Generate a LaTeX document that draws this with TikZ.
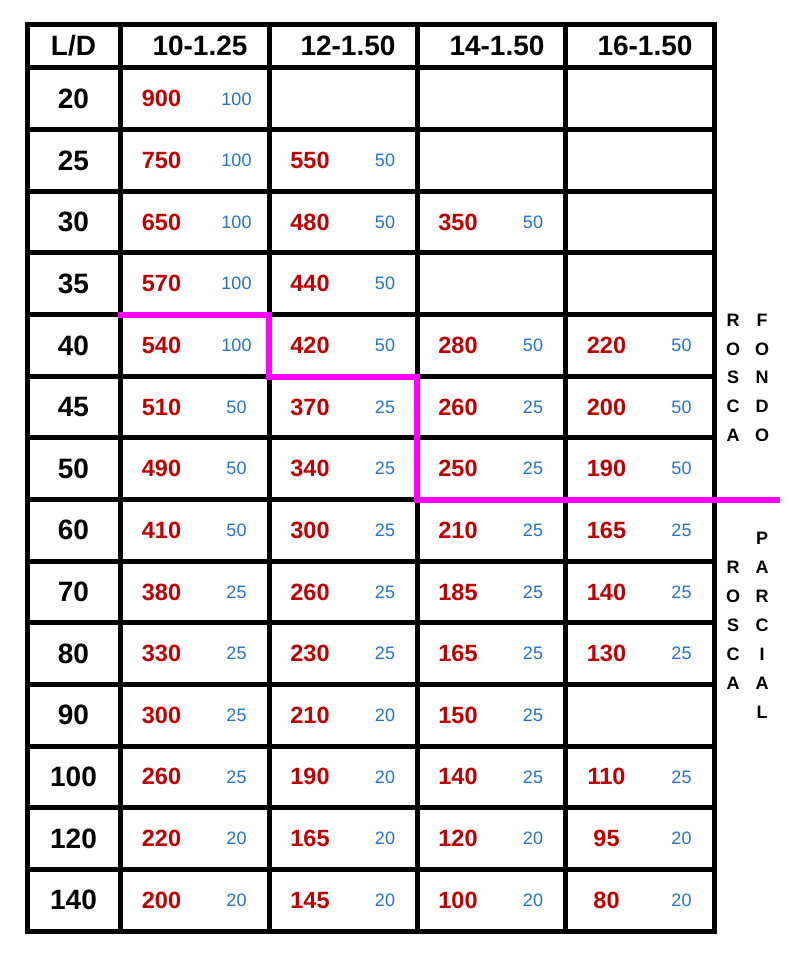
\documentclass[tikz,border=0pt]{standalone}
\usepackage{fontspec}
\setmainfont{Liberation Sans}
\definecolor{valred}{HTML}{C00000}
\definecolor{valblue}{HTML}{2271D6}
\definecolor{zonemag}{HTML}{FF00FF}
\begin{document}
\begin{tikzpicture}[x=1pt,y=-1pt,
    gridline/.style={line width=5pt},
    headtxt/.style={inner sep=0pt,font=\fontsize{28}{30}\selectfont\bfseries},
    redval/.style={inner sep=0pt,text=valred,font=\fontsize{23.5}{25}\selectfont\bfseries},
    blueval/.style={inner sep=0pt,text=valblue,font=\fontsize{18}{20}\selectfont},
    sidetxt/.style={inner sep=0pt,font=\fontsize{18}{20}\selectfont\bfseries},
    zoneline/.style={zonemag,line width=6pt}]
    \useasboundingbox (0,0) rectangle (803,963);
    \def\rh{61.64} % row height
    \def\ytop{68} % bottom of header row
    \def\ybot{931}

    % grid
    \foreach \x in {120.5,269,417,565.5}
        \draw [gridline] (\x,24.5) -- (\x,\ybot);
    \foreach \k in {0,1,...,13}
        \draw [gridline] (27,\ytop+\k*\rh) -- (714,\ytop+\k*\rh);
    \draw [gridline] (27,24.5) rectangle (714,\ybot);

    % header
    \node [headtxt] (h0) at (73.5,46) {L/D};
    \foreach \c/\x/\t in {1/200/10-1.25,2/348/12-1.50,3/497/14-1.50,4/645/16-1.50}
        \node [headtxt] (h\c) at (\x,46) {\t};

    % L/D column
    \foreach \ld [count=\r from 0] in {20,25,30,35,40,45,50,60,70,80,90,100,120,140}
        \node [headtxt] (ld\r) at (73.5,\ytop+\r*\rh+0.5*\rh) {\ld};

    % values: row / red / blue for each column
    \foreach \c/\xl/\vals in {
        1/120.5/{0/900/100,1/750/100,2/650/100,3/570/100,4/540/100,5/510/50,6/490/50,
                 7/410/50,8/380/25,9/330/25,10/300/25,11/260/25,12/220/20,13/200/20},
        2/269/{1/550/50,2/480/50,3/440/50,4/420/50,5/370/25,6/340/25,
               7/300/25,8/260/25,9/230/25,10/210/20,11/190/20,12/165/20,13/145/20},
        3/417/{2/350/50,4/280/50,5/260/25,6/250/25,
               7/210/25,8/185/25,9/165/25,10/150/25,11/140/25,12/120/20,13/100/20},
        4/565.5/{4/220/50,5/200/50,6/190/50,
                 7/165/25,8/140/25,9/130/25,11/110/25,12/95/20,13/80/20}}
    {
        \foreach \r/\a/\b in \vals
        {
            \node [redval] (v\c-\r) at (\xl+41,\ytop+\r*\rh+0.5*\rh) {\a};
            \node [blueval] (s\c-\r) at (\xl+116,\ytop+\r*\rh+0.5*\rh) {\b};
        }
    }

    % zone boundary
    \draw [zoneline] (118,314.5) -- (268.5,314.5) -- (268.5,377)
        -- (416.5,377) -- (416.5,499.5) -- (780,499.5);

    % side labels
    \foreach \l [count=\i from 0] in {R,O,S,C,A}
        \node [sidetxt] (rf\i) at (733,320+\i*28.8) {\l};
    \foreach \l [count=\i from 0] in {F,O,N,D,O}
        \node [sidetxt] (fo\i) at (762,320+\i*28.8) {\l};
    \foreach \l [count=\i from 0] in {R,O,S,C,A}
        \node [sidetxt] (rp\i) at (733,567+\i*29) {\l};
    \foreach \l [count=\i from 0] in {P,A,R,C,I,A,L}
        \node [sidetxt] (pa\i) at (762,538+\i*29) {\l};
\end{tikzpicture}
\end{document}
